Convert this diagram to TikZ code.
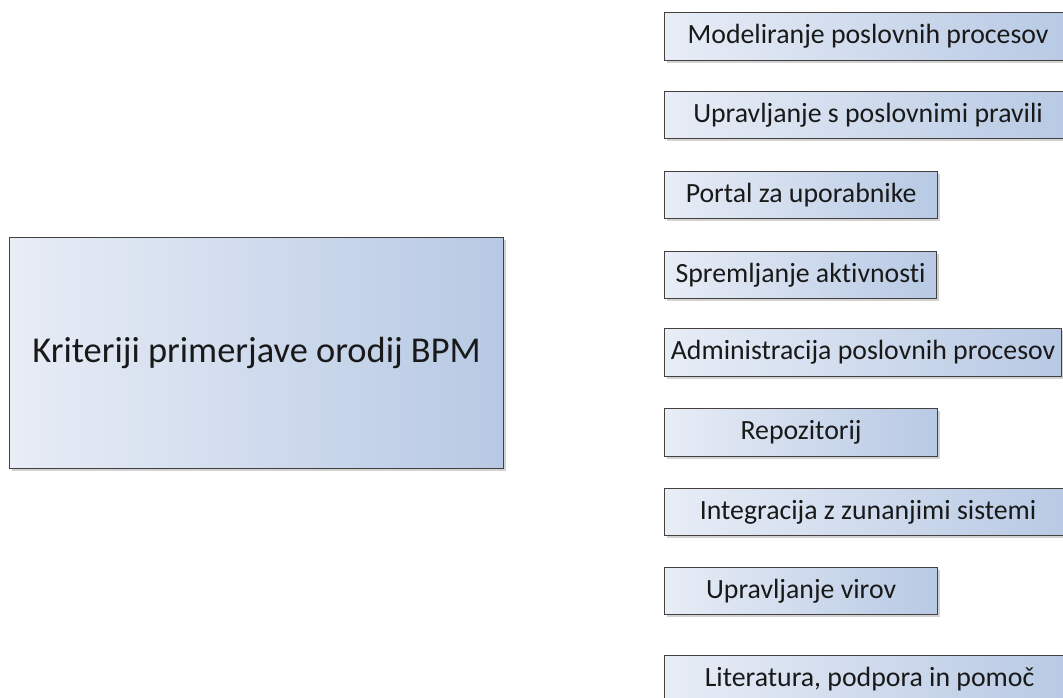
\documentclass[tikz,border=0pt]{standalone}
\usepackage{fontspec}
\setmainfont{Carlito}[RawFeature=-liga]
\usetikzlibrary{shadows}
\definecolor{gradL}{RGB}{232,237,246}
\definecolor{gradR}{RGB}{183,201,228}
\definecolor{edge}{RGB}{70,64,64}
\definecolor{txt}{RGB}{25,25,25}
\tikzset{
  crit/.style={rectangle, draw=edge, line width=1.2pt, left color=gradL, right color=gradR,
    drop shadow={opacity=0.35, shadow xshift=2.5pt, shadow yshift=-2.5pt},
    anchor=north west, inner sep=0pt, text=txt, font=\fontsize{27.8}{30}\selectfont},
  mainbox/.style={crit, font=\fontsize{36.4}{40}\selectfont}
}
\begin{document}
\begin{tikzpicture}[x=1pt,y=-1pt]
\useasboundingbox (0,0) rectangle (1063,698);
\clip (0,0) rectangle (1063,698);
\fill[white] (0,0) rectangle (1063,698);
\node[mainbox, minimum width=494pt, minimum height=231pt] (main) at (9,237) {Kriteriji primerjave orodij BPM};
\node[crit, minimum width=407pt, minimum height=48pt] (b1) at (664,12) {Modeliranje poslovnih procesov};
\node[crit, minimum width=407pt, minimum height=47pt] (b2) at (664,91) {Upravljanje s poslovnimi pravili};
\node[crit, minimum width=273pt, minimum height=47pt] (b3) at (664,171) {Portal za uporabnike};
\node[crit, minimum width=272pt, minimum height=47pt] (b4) at (664,251) {Spremljanje aktivnosti};
\node[crit, minimum width=397pt, minimum height=48pt] (b5) at (664,328) {Administracija poslovnih procesov};
\node[crit, minimum width=273pt, minimum height=48pt] (b6) at (664,408) {Repozitorij};
\node[crit, minimum width=407pt, minimum height=47pt] (b7) at (664,488) {Integracija z zunanjimi sistemi};
\node[crit, minimum width=273pt, minimum height=47pt] (b8) at (664,567) {Upravljanje virov};
\node[crit, minimum width=410pt, minimum height=47pt] (b9) at (664,655) {Literatura, podpora in pomoč};
\end{tikzpicture}
\end{document}
